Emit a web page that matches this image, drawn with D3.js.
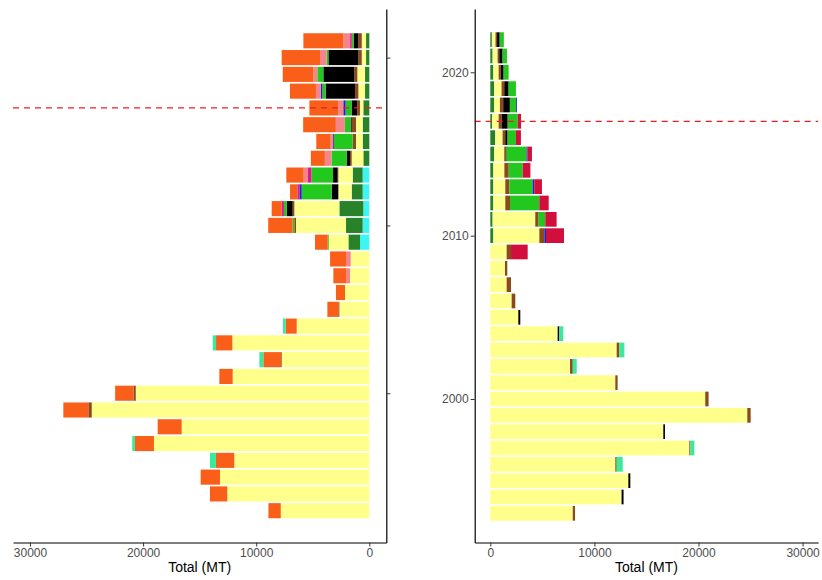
<!DOCTYPE html>
<html>
  <head>
    <meta charset="UTF-8" />
    <script src="https://d3js.org/d3.v7.min.js"></script>
    <style>
      body { margin: 0; background: #fff; }
      svg { display: block; }
      text { font-family: "Liberation Sans", Arial, sans-serif; }
    </style>
    <title>Total (MT)</title>
  </head>

  <body>
    <div id="chart"></div>
    <script type="text/javascript">
      // years per panel
      const leftYears = [1993, 1994, 1995, 1996, 1997, 1998, 1999, 2000, 2001, 2002, 2003, 2004, 2005, 2006, 2007,
        2008, 2009, 2010, 2011, 2012, 2013, 2014, 2015, 2016, 2017, 2018, 2019, 2020, 2021];
      const rightYears = [1993, 1994, 1995, 1996, 1997, 1998, 1999, 2000, 2001, 2002, 2003, 2004, 2005, 2006, 2007,
        2008, 2009, 2010, 2011, 2012, 2013, 2014, 2015, 2016, 2017, 2018, 2019, 2020, 2021, 2022];

      // stack order, from the axis outward
      const keys = ["cyan", "dkgreen", "yellow", "brown", "black", "green", "blue", "magenta", "pink", "orange", "crimson", "turq"];
      const colors = ["#3cf6f6", "#27822a", "#ffff8c", "#8b4a1c", "#000000", "#22c81e", "#1f1fcc", "#d81b8c", "#f3858b", "#fa5f1a", "#d20f3c", "#3ae99a"];

      // left panel values (MT)
      const leftCyan = [0, 0, 0, 0, 0, 0, 0, 0, 0, 0, 0, 0, 0, 0, 0, 0, 820, 590, 530, 590, 590, 0, 0, 0, 0, 0, 0, 0, 0];
      const leftDkgreen = [0, 0, 0, 0, 0, 0, 0, 0, 0, 0, 0, 0, 0, 0, 0, 0, 1030, 1470, 2120, 970, 880, 530, 590, 590, 530, 380, 380, 290, 290];
      const leftYellow = [7830, 12560, 13200, 11940, 19040, 16590, 24540, 20650, 12080, 7750, 12110, 6420, 2650, 2150, 1710, 1650,
        1740, 4420, 3980, 1180, 1270, 1030, 590, 590, 300, 590, 680, 380, 380];
      const leftBrown = [0, 0, 0, 0, 0, 0, 300, 200, 0, 60, 0, 0, 90, 0, 0, 0, 0, 150, 150, 0, 60, 150, 290, 380, 240, 300, 265, 300, 300];
      const leftBlack = [0, 0, 0, 0, 0, 0, 0, 0, 0, 0, 0, 0, 0, 0, 0, 0, 0, 0, 530, 590, 410, 300, 0, 100, 500, 2590, 2740, 2650, 400];
      const leftGreen = [0, 0, 0, 0, 0, 0, 0, 0, 0, 0, 0, 0, 0, 0, 0, 0, 90, 150, 240, 2650, 1910, 1330, 1650, 500, 530, 300, 530, 150, 180];
      const leftBlue = [0, 0, 0, 0, 0, 0, 0, 0, 0, 0, 0, 0, 0, 0, 0, 0, 0, 0, 0, 200, 0, 0, 80, 0, 200, 120, 0, 0, 0];
      const leftMagenta = [0, 0, 0, 0, 0, 0, 0, 0, 0, 0, 0, 0, 0, 0, 0, 0, 0, 0, 200, 180, 300, 0, 0, 0, 0, 0, 0, 0, 150];
      const leftPink = [0, 0, 0, 0, 0, 0, 0, 0, 0, 0, 0, 0, 0, 0, 350, 410, 0, 0, 0, 0, 390, 590, 220, 800, 440, 440, 350, 590, 590];
      const leftOrange = [1090, 1530, 1710, 1620, 1680, 2120, 2210, 1620, 1180, 1560, 1440, 970, 970, 800, 1120, 1410,
        1120, 2160, 880, 650, 1530, 1240, 1270, 2890, 2560, 2300, 2710, 3390, 3540];
      const leftTurq = [0, 0, 0, 530, 240, 0, 0, 0, 0, 350, 290, 240, 0, 0, 0, 0, 0, 0, 0, 0, 0, 0, 0, 0, 0, 0, 0, 0, 0];

      // right panel values (MT)
      const rightDkgreen = [0, 0, 0, 0, 0, 0, 0, 0, 0, 0, 0, 0, 0, 0, 0, 0, 0, 290, 220, 290, 290, 290, 380, 480, 160, 380, 380, 290, 220, 150];
      const rightYellow = [7920, 12610, 13260, 12010, 19120, 16620, 24690, 20650, 12010, 7660, 12140, 6470, 2690, 2050, 1570, 1410, 1570,
        4420, 4100, 1150, 1150, 1060, 960, 700, 640, 540, 700, 510, 480, 350];
      const rightBrown = [220, 0, 0, 130, 100, 0, 320, 320, 220, 260, 260, 0, 0, 350, 420, 220, 420,
        480, 320, 450, 380, 420, 150, 256, 290, 320, 260, 220, 160, 150];
      const rightBlack = [0, 190, 190, 0, 0, 160, 0, 0, 0, 0, 0, 160, 190, 0, 0, 0, 0, 0, 0, 0, 0, 0, 70, 224, 580, 640, 420, 260, 320, 250];
      const rightGreen = [0, 0, 0, 0, 0, 0, 0, 0, 0, 0, 0, 0, 0, 0, 0, 0, 0, 0, 640, 2820, 2240, 1340, 1920, 800, 960, 580, 700, 480, 420, 400];
      const rightBlue = [0, 0, 0, 0, 0, 0, 0, 0, 0, 0, 0, 0, 0, 0, 0, 0, 0, 160, 0, 0, 160, 0, 100, 0, 0, 90, 0, 0, 0, 0];
      const rightCrimson = [0, 0, 0, 0, 0, 0, 0, 0, 0, 0, 0, 0, 0, 0, 0, 0, 1600, 1730, 1090, 900, 740, 740, 420, 480, 320, 0, 0, 0, 0, 0];
      const rightTurq = [0, 0, 0, 580, 380, 0, 0, 0, 0, 380, 480, 380, 0, 0, 0, 0, 0, 0, 0, 0, 0, 0, 0, 0, 0, 0, 0, 0, 0, 0];

      const xTicks = [0, 10000, 20000, 30000];
      const yTicks = [2000, 2010, 2020];
      const cutYear = 2017; // rode stiplede linje

      const w = 822;
      const h = 580;
      const panelTop = 9;
      const panelBottom = 542.5;

      // rows for d3.stack
      const leftRows = leftYears.map(function (yr, i) {
        return {
          year: yr, cyan: leftCyan[i], dkgreen: leftDkgreen[i], yellow: leftYellow[i], brown: leftBrown[i],
          black: leftBlack[i], green: leftGreen[i], blue: leftBlue[i], magenta: leftMagenta[i], pink: leftPink[i],
          orange: leftOrange[i], crimson: 0, turq: leftTurq[i],
        };
      });
      const rightRows = rightYears.map(function (yr, i) {
        return {
          year: yr, cyan: 0, dkgreen: rightDkgreen[i], yellow: rightYellow[i], brown: rightBrown[i],
          black: rightBlack[i], green: rightGreen[i], blue: rightBlue[i], magenta: 0, pink: 0,
          orange: 0, crimson: rightCrimson[i], turq: rightTurq[i],
        };
      });

      const color = d3.scaleOrdinal().domain(keys).range(colors);
      const stack = d3.stack().keys(keys);

      const svg = d3.select("#chart").append("svg").attr("width", w).attr("height", h);

      // scales - venstre panel er spejlvendt
      const xLeft = d3.scaleLinear().domain([-1500, 31500]).range([386.3, 13]);
      const xRight = d3.scaleLinear().domain([-1500, 31500]).range([474.7, 818.2]);
      const yLeft = d3.scaleLinear().domain([1991.105, 2022.895]).range([panelBottom, panelTop]);
      const yRight = d3.scaleLinear().domain([1991.215, 2023.875]).range([panelBottom, panelTop]);

      function drawBars(rows, xScale, yScale) {
        const g = svg.append("g");
        g.selectAll("g")
          .data(stack(rows))
          .enter()
          .append("g")
          .attr("fill", function (d) {
            return color(d.key);
          })
          .selectAll("rect")
          .data(function (d) {
            return d.filter(function (s) {
              return s[1] - s[0] > 0;
            });
          })
          .enter()
          .append("rect")
          .attr("x", function (d) {
            return Math.min(xScale(d[0]), xScale(d[1]));
          })
          .attr("width", function (d) {
            return Math.abs(xScale(d[1]) - xScale(d[0]));
          })
          .attr("y", function (d) {
            return yScale(d.data.year + 0.45);
          })
          .attr("height", function (d) {
            return yScale(d.data.year - 0.45) - yScale(d.data.year + 0.45);
          });
      }

      drawBars(leftRows, xLeft, yLeft);
      drawBars(rightRows, xRight, yRight);

      // stiplede linjer
      svg.append("line")
        .attr("x1", xLeft.range()[1]).attr("x2", xLeft.range()[0])
        .attr("y1", yLeft(cutYear)).attr("y2", yLeft(cutYear))
        .attr("stroke", "#ee1c22").attr("stroke-width", 1.3).attr("stroke-dasharray", "6,5");
      svg.append("line")
        .attr("x1", xRight.range()[0]).attr("x2", xRight.range()[1])
        .attr("y1", yRight(cutYear)).attr("y2", yRight(cutYear))
        .attr("stroke", "#ee1c22").attr("stroke-width", 1.3).attr("stroke-dasharray", "6,5");

      // akser
      function styleAxis(g) {
        g.select(".domain").attr("stroke", "#000").attr("stroke-width", 1.2);
        g.selectAll(".tick line").attr("stroke", "#333").attr("stroke-width", 1);
        g.selectAll(".tick text").attr("fill", "#4d4d4d").style("font-size", "12px");
      }

      svg.append("g")
        .attr("transform", "translate(0," + panelBottom + ")")
        .call(d3.axisBottom(xLeft).tickValues(xTicks).tickFormat(d3.format("d")).tickSize(4).tickSizeOuter(0).tickPadding(2))
        .call(styleAxis);
      svg.append("g")
        .attr("transform", "translate(0," + panelBottom + ")")
        .call(d3.axisBottom(xRight).tickValues(xTicks).tickFormat(d3.format("d")).tickSize(4).tickSizeOuter(0).tickPadding(2))
        .call(styleAxis);

      svg.append("g")
        .attr("transform", "translate(" + xLeft.range()[0] + ",0)")
        .call(d3.axisRight(yLeft).tickValues(yTicks).tickFormat("").tickSize(4).tickSizeOuter(0))
        .call(styleAxis);
      svg.append("g")
        .attr("transform", "translate(" + xRight.range()[0] + ",0)")
        .call(d3.axisLeft(yRight).tickValues(yTicks).tickFormat(d3.format("d")).tickSize(4).tickSizeOuter(0).tickPadding(2))
        .call(styleAxis);

      // akse titler
      svg.append("text")
        .attr("x", (xLeft.range()[0] + xLeft.range()[1]) / 2)
        .attr("y", 572)
        .attr("text-anchor", "middle")
        .style("font-size", "14px")
        .text("Total (MT)");
      svg.append("text")
        .attr("x", (xRight.range()[0] + xRight.range()[1]) / 2)
        .attr("y", 572)
        .attr("text-anchor", "middle")
        .style("font-size", "14px")
        .text("Total (MT)");
    </script>
  </body>
</html>
